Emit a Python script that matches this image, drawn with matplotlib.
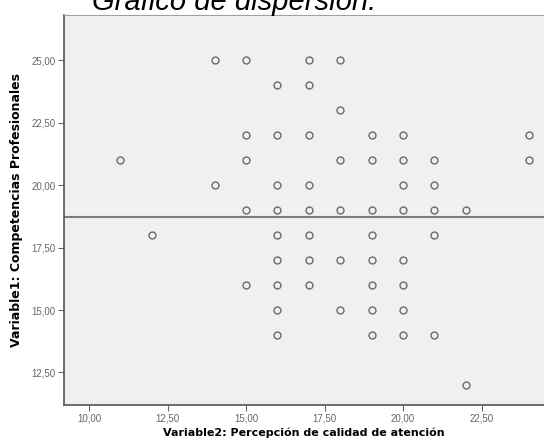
import matplotlib.pyplot as plt
from matplotlib.ticker import FuncFormatter

# puntos (x = Variable2, y = Variable1)
x_vals = [14, 15, 17, 18,
          16, 17,
          18,
          15, 16, 17, 19, 20, 24,
          11, 15, 18, 19, 20, 21, 24,
          14, 16, 17, 20, 21,
          15, 16, 17, 18, 19, 20, 21, 22,
          12, 16, 17, 19, 21,
          16, 17, 18, 19, 20,
          15, 16, 17, 19, 20,
          16, 18, 19, 20,
          16, 19, 20, 21,
          22]
y_vals = [25, 25, 25, 25,
          24, 24,
          23,
          22, 22, 22, 22, 22, 22,
          21, 21, 21, 21, 21, 21, 21,
          20, 20, 20, 20, 20,
          19, 19, 19, 19, 19, 19, 19, 19,
          18, 18, 18, 18, 18,
          17, 17, 17, 17, 17,
          16, 16, 16, 16, 16,
          15, 15, 15, 15,
          14, 14, 14, 14,
          12]
mean_y = 18.72

x_ticks = [10, 12.5, 15, 17.5, 20, 22.5]
y_ticks = [12.5, 15, 17.5, 20, 22.5, 25]

plt.rcParams['font.family'] = ['Liberation Sans', 'DejaVu Sans']

fig = plt.figure(figsize=(5.44, 4.43), dpi=100)
ax = fig.add_axes([0.1176, 0.0858, 0.8824, 0.8802])
ax.set_facecolor('#f0f0f0')

ax.plot(x_vals, y_vals, 'o', markersize=5, markerfacecolor='none',
        markeredgecolor='#6a6a6a', markeredgewidth=1.0)
ax.axhline(mean_y, color='#7a7a7a', linewidth=1.5)

ax.set_xlim(9.2, 24.49)
ax.set_ylim(11.2, 26.8)
ax.set_xticks(x_ticks)
ax.set_yticks(y_ticks)
fmt = FuncFormatter(lambda v, p: f"{v:.2f}".replace('.', ','))
ax.xaxis.set_major_formatter(fmt)
ax.yaxis.set_major_formatter(fmt)
ax.tick_params(labelsize=7, colors='#666666', length=4, width=0.8, pad=2)

for side in ['left', 'bottom']:
    ax.spines[side].set_color('#555555')
    ax.spines[side].set_linewidth(1.2)
ax.spines['top'].set_color('#a0a0a0')
ax.spines['right'].set_visible(False)

ax.set_xlabel('Variable2: Percepción de calidad de atención', fontsize=8,
              fontweight='bold', family='DejaVu Sans', labelpad=3)
ax.set_ylabel('Variable1: Competencias Profesionales', fontsize=9,
              fontweight='bold', family='DejaVu Sans', labelpad=6)

fig.text(0.43, 0.977, 'Gráfico de dispersión.', fontsize=21, style='italic',
         ha='center', va='baseline')

fig.savefig('out.png', dpi=100)
